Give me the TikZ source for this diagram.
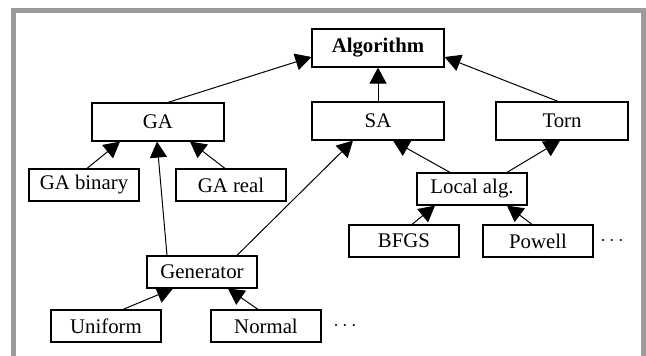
\documentclass[tikz,border=0pt]{standalone}
\usepackage{fontspec}
\setmainfont{Liberation Serif}
\usetikzlibrary{arrows.meta}
\definecolor{framegray}{HTML}{9B9B9B}

\begin{document}
\begin{tikzpicture}[x=0.5pt,y=-0.5pt,
		font=\fontsize{10.4}{12}\selectfont,
		bigbox/.style={draw,line width=0.6pt,minimum width=66pt,minimum height=19pt,inner sep=0pt},
		smallbox/.style={draw,line width=0.6pt,minimum width=55pt,minimum height=16pt,inner sep=0pt},
		link/.style={line width=0.5pt,-{Triangle[length=8pt,width=8.5pt]}}]
		\useasboundingbox (0,0) rectangle (646,356);
		\draw[framegray, line width=2.5pt] (13.5,356)--(13.5,10.5)--(643.5,10.5)--(643.5,356);
		
		\node[bigbox] (alg) at (378,48) {\textbf{Algorithm}};
		\node[bigbox] (ga) at (158,122) {GA};
		\node[bigbox] (sa) at (378,121) {SA};
		\node[bigbox] (torn) at (562,121) {Torn};
		
		\node[smallbox] (gabin) at (84,185) {GA binary};
		\node[smallbox] (gareal) at (231,185) {GA real};
		\node[smallbox] (local) at (472,189) {Local alg.};
		\node[smallbox] (bfgs) at (404,241) {BFGS};
		\node[smallbox] (powell) at (538,241) {Powell};
		\node (dotsa) at (612,241) {$\cdots$};
		\node[smallbox] (gen) at (202,272) {Generator};
		\node[smallbox] (unif) at (106,326) {Uniform};
		\node[smallbox] (normal) at (266,326) {Normal};
		\node (dotsb) at (345,326) {$\cdots$};
		
		%\draw[link] (ga) -- (alg);
		\draw[link] ([xshift=5pt]ga.north) -- ([yshift=-4.5pt]alg.west);
		\draw[link] (sa) -- (alg);
		\draw[link] ([xshift=-2pt]torn.north) -- ([yshift=-4.5pt]alg.east);
		\draw[link] ([xshift=1.5pt]gabin.north) -- ([xshift=-19pt]ga.south);
		\draw[link] ([xshift=-3pt]gareal.north) -- ([xshift=16pt]ga.south);
		\draw[link] ([xshift=-17.5pt]gen.north) -- ([xshift=-0.5pt]ga.south);
		\draw[link] ([xshift=17.5pt]gen.north) -- ([xshift=-12.5pt]sa.south);
		\draw[link] ([xshift=-11pt]local.north) -- ([xshift=7.5pt]sa.south);
		\draw[link] ([xshift=17.5pt]local.north) -- ([xshift=-1pt]torn.south);
		\draw[link] ([xshift=4pt]bfgs.north) -- ([xshift=-18.5pt]local.south);
		\draw[link] ([xshift=-3pt]powell.north) -- ([xshift=17.5pt]local.south);
		\draw[link] ([xshift=8.5pt]unif.north) -- ([xshift=-14.5pt]gen.south);
		\draw[link] ([xshift=-4pt]normal.north) -- ([xshift=13pt]gen.south);
	\end{tikzpicture}
\end{document}
